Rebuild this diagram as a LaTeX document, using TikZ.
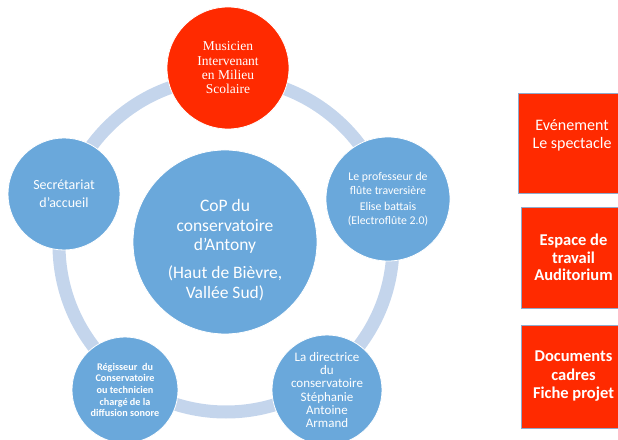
\documentclass[tikz,border=0pt]{standalone}
\usepackage{fontspec}
\setmainfont{Carlito}
\newfontfamily\timesfont{Liberation Serif}
\definecolor{cop-blue}{HTML}{6AA8DB}
\definecolor{cop-red}{HTML}{FF2A00}
\definecolor{ring-blue}{HTML}{C4D5EC}
\definecolor{box-edge}{HTML}{8FAACC}

\begin{document}
\begin{tikzpicture}[x=1pt, y=1pt,
    every node/.style={text=white, align=center, inner sep=0pt},
    member/.style={circle, draw=white, line width=0.8pt, fill=cop-blue},
    infobox/.style={draw=box-edge, line width=0.6pt, fill=cop-red}]
    \useasboundingbox (0,0) rectangle (618,439);
    \clip (0,0) rectangle (618,439);
    % cycle ring behind the circles
    \draw[ring-blue, line width=13pt] (226,194) circle (167);
    \node[member, minimum size=184pt] (cop) at (225,197) {};
    \node[font=\fontsize{17.5}{19.8}\selectfont] (cop-text) at (225,189)
      {CoP du\\conservatoire\\d’Antony\\[8pt](Haut de Bièvre,\\Vallée Sud)};
    \node[member, fill=cop-red, minimum size=122pt,
      font=\timesfont\fontsize{13.5}{14.3}\selectfont] (mims) at (228,371)
      {Musicien\\Intervenant\\en Milieu\\Scolaire};
    \node[member, minimum size=124pt, font=\fontsize{11.8}{13.5}\selectfont]
      (prof) at (388,240)
      {Le professeur de\\flûte traversière\\[3pt]Elise battais\\(Electroflûte 2.0)};
    \node[member, minimum size=110pt, font=\fontsize{13}{13.3}\selectfont]
      (dir) at (327,49)
      {La directrice\\du\\conservatoire\\Stéphanie\\Antoine\\Armand};
    \node[member, minimum size=106pt, font=\bfseries\fontsize{10.2}{11.6}\selectfont]
      (reg) at (125,49)
      {Régisseur\ \ du\\Conservatoire\\ou technicien\\chargé de la\\diffusion sonore};
    \node[member, minimum size=112pt, font=\fontsize{14}{18.3}\selectfont]
      (sec) at (64,245) {Secrétariat\\d’accueil};
    % side boxes
    \node[infobox, minimum width=108pt, minimum height=100pt] (evt) at (572,296) {};
    \node[font=\fontsize{16}{18}\selectfont] (evt-text) at (572,304)
      {Evénement\\Le spectacle};
    \node[infobox, minimum width=105pt, minimum height=101pt,
      font=\bfseries\fontsize{16.5}{17.5}\selectfont] (esp) at (573.5,181.5)
      {Espace de\\travail\\Auditorium};
    \node[infobox, minimum width=105pt, minimum height=103pt,
      font=\bfseries\fontsize{16.5}{18.5}\selectfont] (doc) at (573.5,62.5)
      {Documents\\cadres\\Fiche projet};
\end{tikzpicture}
\end{document}
